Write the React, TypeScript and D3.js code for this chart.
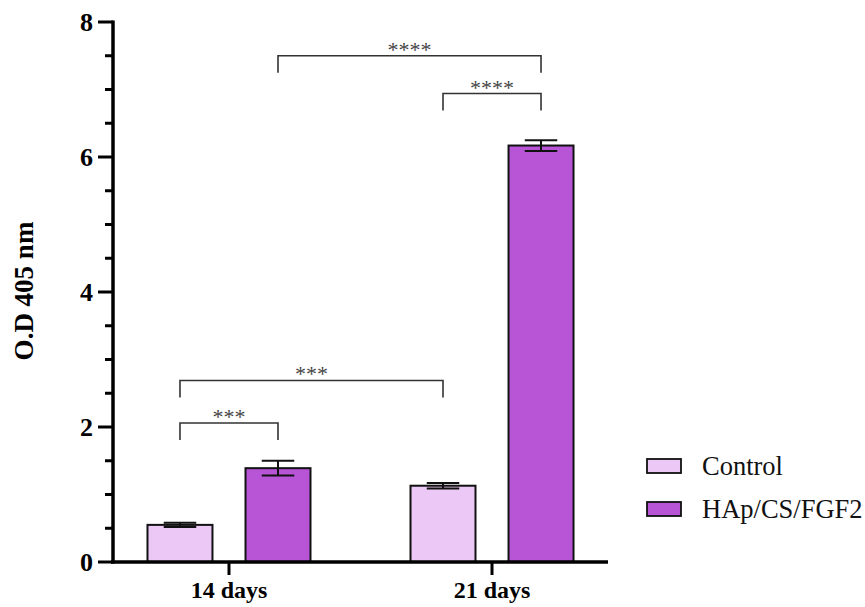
import React from "react";
import * as d3 from "d3";

const groups = ["14 days", "21 days"];
const seriesNames = ["Control", "HAp/CS/FGF2"];
const controlValues = [0.55, 1.13];
const controlErrors = [0.03, 0.04];
const hapValues = [1.39, 6.17];
const hapErrors = [0.11, 0.08];
const yTicks = [0, 2, 4, 6, 8];
const yMinorTicks = [0.5, 1, 1.5, 2.5, 3, 3.5, 4.5, 5, 5.5, 6.5, 7, 7.5];
const colors = ["#EBC8F5", "#B755D6"];

// significance brackets: [groupA, seriesA, groupB, seriesB, label, level(value)]
const sigPairs: [number, number, number, number, string, number][] = [
  [0, 0, 0, 1, "***", 2.06],
  [0, 0, 1, 0, "***", 2.69],
  [1, 0, 1, 1, "****", 6.94],
  [0, 1, 1, 1, "****", 7.5],
];

const W = 865;
const H = 607;
const serif = "Liberation Serif, Times New Roman, serif";

export default function App() {
  const y = d3.scaleLinear().domain([0, 8]).range([562, 22]);
  const x0 = d3.scalePoint<string>().domain(groups).range([113, 608]).padding(0.441);
  const x1 = d3.scaleBand<string>().domain(seriesNames).range([-81.5, 81.5]).paddingInner(0.337).paddingOuter(0);
  const bw = x1.bandwidth();
  const capW = bw / 2;

  const seriesData = [
    { name: seriesNames[0], values: controlValues, errors: controlErrors, color: colors[0] },
    { name: seriesNames[1], values: hapValues, errors: hapErrors, color: colors[1] },
  ];

  const barCenter = (g: number, s: number) => (x0(groups[g]) as number) + (x1(seriesNames[s]) as number) + bw / 2;

  return (
    <svg width={W} height={H} style={{ position: "absolute", left: 0, top: 0, background: "#fff", fontFamily: serif }}>
      <rect x={0} y={0} width={W} height={H} fill="#fff" />
      {/* bars */}
      {seriesData.map((s, si) =>
        s.values.map((v, gi) => {
          const cx = barCenter(gi, si);
          return (
            <g key={`${si}-${gi}`}>
              <rect x={cx - bw / 2} y={y(v)} width={bw} height={y(0) - y(v)} fill={s.color} stroke="#111" strokeWidth={2} />
              <line x1={cx} x2={cx} y1={y(v + s.errors[gi])} y2={y(v - s.errors[gi])} stroke="#111" strokeWidth={2} />
              <line x1={cx - capW / 2} x2={cx + capW / 2} y1={y(v + s.errors[gi])} y2={y(v + s.errors[gi])} stroke="#111" strokeWidth={2} />
              <line x1={cx - capW / 2} x2={cx + capW / 2} y1={y(v - s.errors[gi])} y2={y(v - s.errors[gi])} stroke="#111" strokeWidth={2} />
            </g>
          );
        })
      )}
      {/* y axis */}
      <line x1={113} x2={113} y1={y(8) - 1.5} y2={y(0) + 1.5} stroke="#000" strokeWidth={3.5} />
      {yTicks.map((t) => (
        <g key={`yt${t}`}>
          <line x1={98} x2={113} y1={y(t)} y2={y(t)} stroke="#000" strokeWidth={3} />
          <text x={93} y={y(t)} dy="0.34em" textAnchor="end" fontSize={26} fontWeight="bold" fill="#000" fontFamily={serif}>
            {t}
          </text>
        </g>
      ))}
      {yMinorTicks.map((t) => (
        <line key={`ym${t}`} x1={105} x2={113} y1={y(t)} y2={y(t)} stroke="#000" strokeWidth={3} />
      ))}
      {/* x axis */}
      <line x1={111} x2={608} y1={y(0)} y2={y(0)} stroke="#000" strokeWidth={3.5} />
      {groups.map((g) => (
        <g key={g}>
          <line x1={x0(g)} x2={x0(g)} y1={y(0)} y2={y(0) + 13} stroke="#000" strokeWidth={3} />
          <text x={x0(g)} y={598} textAnchor="middle" fontSize={24} fontWeight="bold" fill="#000" fontFamily={serif}>
            {g}
          </text>
        </g>
      ))}
      {/* y label */}
      <text transform={`translate(33,291) rotate(-90)`} textAnchor="middle" fontSize={27} fontWeight="bold" fill="#000" fontFamily={serif}>
        O.D 405 nm
      </text>
      {/* significance brackets */}
      {sigPairs.map(([ga, sa, gb, sb, label, lvl], i) => {
        const xa = barCenter(ga, sa);
        const xb = barCenter(gb, sb);
        const yl = y(lvl);
        return (
          <g key={`sig${i}`}>
            <path d={`M${xa},${yl + 17}V${yl}H${xb}V${yl + 17}`} fill="none" stroke="#333" strokeWidth={1.6} />
            <text x={(xa + xb) / 2} y={yl + 1} textAnchor="middle" fontSize={22} fill="#444" fontFamily={serif}>
              {label}
            </text>
          </g>
        );
      })}
      {/* legend */}
      {seriesNames.map((n, i) => (
        <g key={n} transform={`translate(647,${459 + i * 43})`}>
          <rect x={0} y={0} width={34} height={14} fill={colors[i]} stroke="#111" strokeWidth={1.8} />
          <text x={55} y={7} dy="0.35em" fontSize={26.5} fill="#111" fontFamily={serif}>
            {n}
          </text>
        </g>
      ))}
    </svg>
  );
}
